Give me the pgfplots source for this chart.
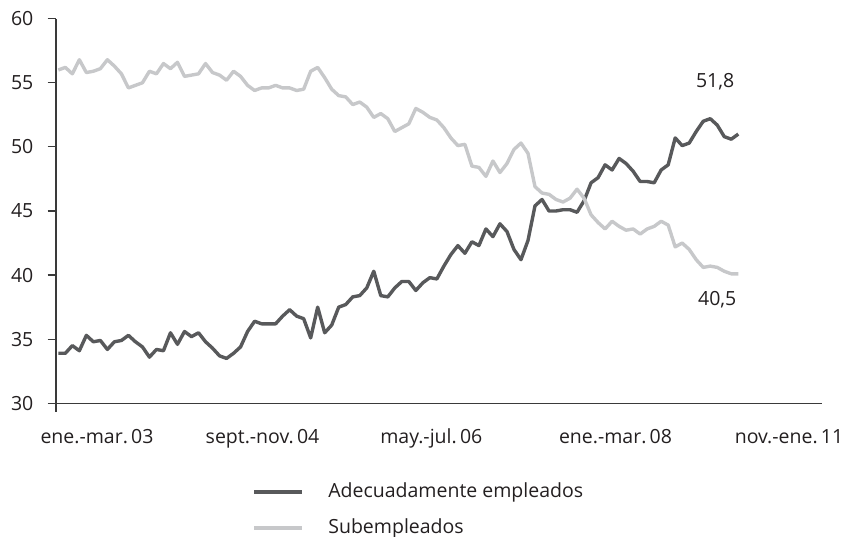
\documentclass[border=0pt]{standalone}
\usepackage{pgfplots}
\usepackage{pgfplotstable}
\pgfplotsset{compat=1.18}
\usepackage{fontspec}
\setmainfont{Open Sans}
\definecolor{darkln}{HTML}{58595B}
\definecolor{lightln}{HTML}{C7C8CA}
\definecolor{axcol}{HTML}{3A3A3A}
\definecolor{txt}{HTML}{231F20}
\newcommand{\cf}{\fontsize{19.5}{22}\selectfont}
\pgfplotstableread{
x adec sub
0 33.9 56.0
1 33.9 56.2
2 34.5 55.7
3 34.1 56.8
4 35.3 55.8
5 34.8 55.9
6 34.9 56.1
7 34.2 56.8
8 34.8 56.3
9 34.9 55.7
10 35.3 54.6
11 34.8 54.8
12 34.4 55.0
13 33.6 55.9
14 34.2 55.7
15 34.1 56.5
16 35.5 56.1
17 34.6 56.6
18 35.6 55.5
19 35.2 55.6
20 35.5 55.7
21 34.8 56.5
22 34.3 55.8
23 33.7 55.6
24 33.5 55.2
25 33.9 55.9
26 34.4 55.5
27 35.6 54.8
28 36.4 54.4
29 36.2 54.6
30 36.2 54.6
31 36.2 54.8
32 36.8 54.6
33 37.3 54.6
34 36.8 54.4
35 36.6 54.5
36 35.1 55.9
37 37.5 56.2
38 35.5 55.4
39 36.1 54.5
40 37.5 54.0
41 37.7 53.9
42 38.3 53.3
43 38.4 53.5
44 39.0 53.1
45 40.3 52.3
46 38.4 52.6
47 38.3 52.2
48 39.0 51.2
49 39.5 51.5
50 39.5 51.8
51 38.8 53.0
52 39.4 52.7
53 39.8 52.3
54 39.7 52.1
55 40.7 51.5
56 41.6 50.7
57 42.3 50.1
58 41.7 50.2
59 42.6 48.5
60 42.3 48.4
61 43.6 47.7
62 43.0 48.9
63 44.0 48.0
64 43.4 48.7
65 42.0 49.8
66 41.2 50.3
67 42.7 49.5
68 45.4 46.9
69 45.9 46.4
70 45.0 46.3
71 45.0 45.9
72 45.1 45.7
73 45.1 46.0
74 44.9 46.7
75 45.8 46.0
76 47.2 44.7
77 47.6 44.1
78 48.6 43.6
79 48.2 44.2
80 49.1 43.8
81 48.7 43.5
82 48.1 43.6
83 47.3 43.2
84 47.3 43.6
85 47.2 43.8
86 48.2 44.2
87 48.6 43.9
88 50.7 42.2
89 50.1 42.5
90 50.3 42.0
91 51.2 41.2
92 52.0 40.6
93 52.2 40.7
94 51.7 40.6
95 50.8 40.3
96 50.6 40.1
97 51.0 40.1
}\datatable
\begin{document}
\begin{tikzpicture}[x=1pt,y=1pt]
\path[use as bounding box] (0,0) rectangle (849,537);
\begin{axis}[
  at={(56pt,133.7pt)}, anchor=south west,
  width=765.7pt, height=384.6pt, scale only axis,
  xmin=-0.33, xmax=108.9, ymin=30, ymax=60,
  axis x line=bottom, axis y line=left,
  axis line style={draw=axcol, line width=1.2pt, -},
  tick style={draw=axcol, line width=1.2pt},
  tick align=outside, major tick length=8.5pt,
  ytick={30,35,40,45,50,55,60},
  xtick={-0.33}, xticklabels={},
  extra x ticks={5.52,29.13,53.21,79.49,104.24},
  extra x tick labels={ene.-mar.\,03,sept.-nov.\,04,may.-jul.\,06,ene.-mar.\,08,nov.-ene.\,11},
  extra x tick style={major tick length=0pt, xticklabel style={anchor=base, yshift=-40pt}},
  /pgf/number format/assume math mode=true,
  tick label style={font=\cf, text=txt},
  yticklabel style={anchor=east, inner sep=0pt, xshift=-14pt},
  clip=false,
  legend style={at={(axis description cs:0.2525,-0.199)}, anchor=north west,
    draw=none, fill=none, font=\cf, text=txt,
    row sep=16pt,
    nodes={inner sep=0pt, text height=15pt, text depth=5pt},
    /tikz/every odd column/.append style={column sep=25pt}},
  legend cell align=left,
  legend image code/.code={\draw[#1] (0pt,0pt) -- (47.4pt,0pt);},
]
\addplot[darkln, line width=3.4pt, line join=round] table[x=x, y=adec] {\datatable};
\addlegendentry{Adecuadamente empleados}
\addplot[lightln, line width=3.4pt, line join=round] table[x=x, y=sub] {\datatable};
\addlegendentry{Subempleados}
\node[font=\cf, text=txt] at (axis cs:93.7,55.06) {51,8};
\node[font=\cf, text=txt] at (axis cs:94.0,38.06) {40,5};
\end{axis}
\end{tikzpicture}
\end{document}
